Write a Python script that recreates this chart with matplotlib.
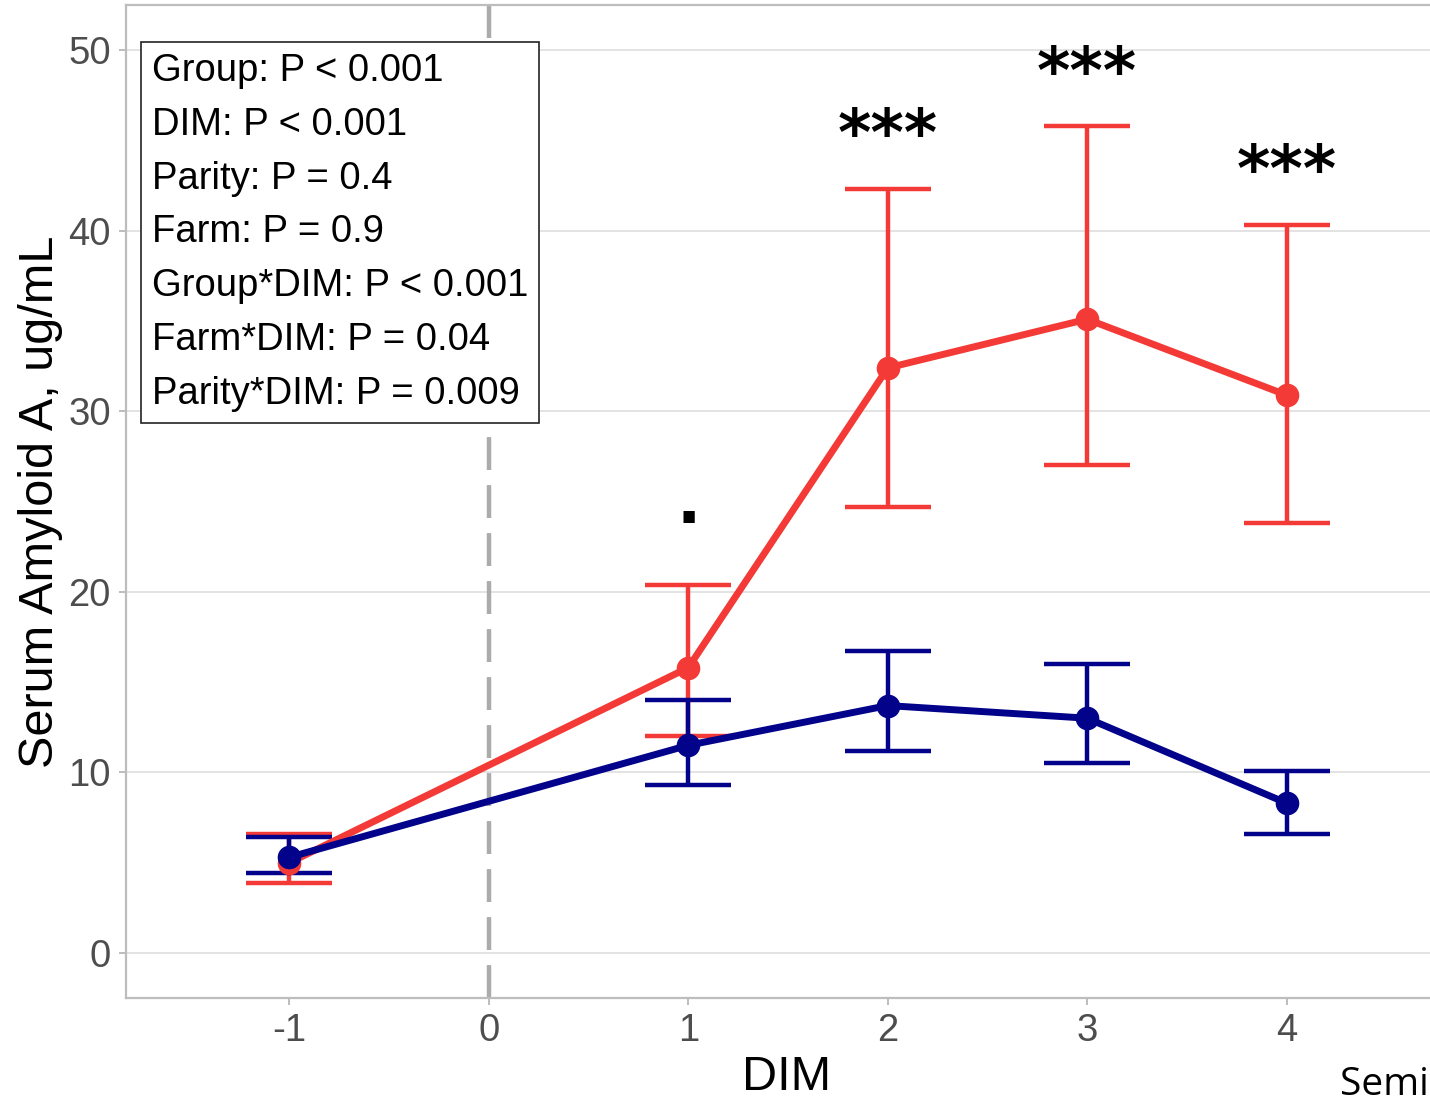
import numpy as np
import matplotlib.pyplot as plt

# values
dim = [-1, 1, 2, 3, 4]

red_mean = [5.0, 15.8, 32.4, 35.1, 30.9]
red_low = [3.9, 12.0, 24.7, 27.0, 23.8]
red_high = [6.6, 20.4, 42.3, 45.8, 40.3]

blue_mean = [5.3, 11.5, 13.7, 13.0, 8.3]
blue_low = [4.4, 9.3, 11.2, 10.5, 6.6]
blue_high = [6.4, 14.0, 16.7, 16.0, 10.1]

sig_x = [1, 2, 3, 4]
sig_y = [24.8, 45.2, 48.6, 43.2]
sig_lab = ['.', '***', '***', '***']

stats_lines = ['Group: P < 0.001', 'DIM: P < 0.001', 'Parity: P = 0.4',
               'Farm: P = 0.9', 'Group*DIM: P < 0.001', 'Farm*DIM: P = 0.04',
               'Parity*DIM: P = 0.009']

RED = '#F43A36'
BLUE = '#02028A'

plt.rcParams['font.family'] = ['Liberation Sans', 'DejaVu Sans']
plt.rcParams['axes.unicode_minus'] = False

fig = plt.figure(figsize=(14.30, 10.97), dpi=100)
ax = fig.add_axes([0.0881, 0.0902, 0.9245, 0.9052])

ax.set_xlim(-1.82, 4.81)
ax.set_ylim(-2.5, 52.5)

ax.axvline(0, color='#ABABAB', lw=3.2, dashes=(7.4, 3.4), zorder=1)

for mean, lo, hi, col in [(red_mean, red_low, red_high, RED),
                          (blue_mean, blue_low, blue_high, BLUE)]:
    mean = np.array(mean)
    err = [mean - np.array(lo), np.array(hi) - mean]
    ax.errorbar(dim, mean, yerr=err, color=col, lw=5, marker='o', ms=16,
                elinewidth=3.2, capsize=31, capthick=3.2, zorder=3)

for x, y, s in zip(sig_x, sig_y, sig_lab):
    ax.text(x, y, s, ha='center', va='center', fontsize=46,
            fontweight='bold', family='DejaVu Sans', color='black', zorder=4)

ax.text(0.0195, 0.952, '\n'.join(stats_lines), transform=ax.transAxes,
        ha='left', va='top', fontsize=27.5, linespacing=1.64, zorder=5,
        bbox=dict(boxstyle='square,pad=0.28', fc='white', ec='#222222', lw=1.2))

ax.set_yticks([0, 10, 20, 30, 40, 50])
ax.set_xticks([-1, 0, 1, 2, 3, 4])
ax.grid(axis='y', color='#DEDEDE', lw=1.2)
ax.grid(axis='x', visible=False)
ax.set_axisbelow(True)

for side in ['left', 'bottom', 'top']:
    ax.spines[side].set_color('#BDBDBD')
    ax.spines[side].set_linewidth(1.6)
ax.spines['right'].set_visible(False)

ax.tick_params(colors='#BDBDBD', labelcolor='#4D4D4D', labelsize=27.5,
               length=5, width=1.4, pad=6)

ax.set_xlabel('DIM', fontsize=35, labelpad=4)
ax.set_ylabel('Serum Amyloid A, ug/mL', fontsize=35, labelpad=4)

fig.text(0.937, -0.006, 'Semi', fontsize=28, family='Open Sans', ha='left', va='bottom')

fig.savefig('out.png', dpi=100)
